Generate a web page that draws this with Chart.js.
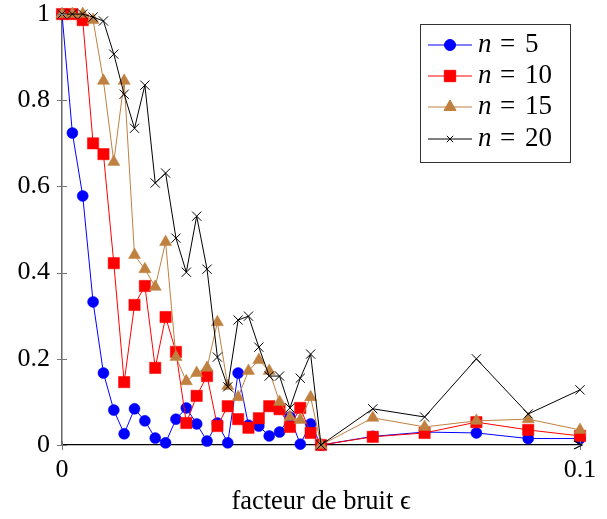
<!DOCTYPE html>
<html>
<head>
<meta charset="utf-8">
<script src="https://cdn.jsdelivr.net/npm/chart.js@4.4.1/dist/chart.umd.min.js"></script>
<style>
  html, body { margin: 0; padding: 0; background: #fff; }
  #wrap { width: 607px; height: 519px; position: relative; }
</style>
</head>
<body>
<div id="wrap"><canvas id="bruitChart"></canvas></div>
<script>
// noise factor (x values)
const epsilon = [0, 0.002, 0.004, 0.006, 0.008, 0.010, 0.012, 0.014, 0.016, 0.018,
  0.020, 0.022, 0.024, 0.026, 0.028, 0.030, 0.032, 0.034, 0.036, 0.038,
  0.040, 0.042, 0.044, 0.046, 0.048, 0.050, 0.06, 0.07, 0.08, 0.09, 0.1];

const n5 = [1, 0.724, 0.578, 0.332, 0.167, 0.081, 0.026, 0.084, 0.056, 0.016,
  0.005, 0.060, 0.086, 0.049, 0.009, 0.051, 0.005, 0.167, 0.046, 0.044,
  0.021, 0.030, 0.065, 0.002, 0.049, 0, 0.020, 0.030, 0.028, 0.015, 0.015];

const n10 = [1, 1, 0.986, 0.700, 0.675, 0.422, 0.146, 0.325, 0.369, 0.179,
  0.297, 0.216, 0.051, 0.114, 0.160, 0.044, 0.090, 0.060, 0.040, 0.062,
  0.090, 0.083, 0.042, 0.086, 0.028, 0, 0.019, 0.028, 0.053, 0.035, 0.021];

const n15 = [1, 1, 1, 0.986, 0.845, 0.657, 0.845, 0.441, 0.408, 0.367,
  0.471, 0.204, 0.148, 0.167, 0.179, 0.285, 0.137, 0.111, 0.172, 0.197,
  0.172, 0.100, 0.065, 0.058, 0.111, 0, 0.063, 0.042, 0.056, 0.060, 0.035];

const n20 = [1, 1, 1, 0.993, 0.984, 0.907, 0.814, 0.735, 0.835, 0.608,
  0.631, 0.480, 0.401, 0.531, 0.408, 0.204, 0.135, 0.290, 0.299, 0.227,
  0.160, 0.160, 0.086, 0.155, 0.211, 0, 0.084, 0.065, 0.200, 0.072, 0.128];

const seriesNames = ["5", "10", "15", "20"];
const xTicks = [0, 0.1];
const yTicks = [0, 0.2, 0.4, 0.6, 0.8, 1];

const serif = "'Liberation Serif', 'DejaVu Serif', serif";
const tan = "rgb(191,128,64)";

const toPoints = (ys) => ys.map((v, i) => ({ x: epsilon[i], y: v }));

const styles = [
  { color: "#0000ff", pointStyle: "circle", radius: 5.5 },
  { color: "#ff0000", pointStyle: "rect", radius: 8 },
  { color: tan, pointStyle: "triangle", radius: 7 },
  { color: "#000000", pointStyle: "crossRot", radius: 6.5 },
];

const allSeries = [n5, n10, n15, n20];

const datasets = allSeries.map((ys, k) => ({
  label: "n = " + seriesNames[k],
  data: toPoints(ys),
  borderColor: styles[k].color,
  backgroundColor: styles[k].color,
  pointBackgroundColor: styles[k].color,
  pointBorderColor: styles[k].color,
  pointStyle: styles[k].pointStyle,
  pointRadius: styles[k].radius,
  pointHoverRadius: styles[k].radius,
  pointBorderWidth: k === 3 ? 1 : 0.5,
  borderWidth: 1,
  tension: 0,
  fill: false,
  clip: false,
  order: 4 - k,
}));

// axis decorations + legend box, pgfplots style
const pgfDeco = {
  id: "pgfDeco",
  afterDraw(chart) {
    const ctx = chart.ctx;
    const a = chart.chartArea;
    const xs = chart.scales.x, ys = chart.scales.y;
    ctx.save();

    // tick marks on both sides of the y axis
    ctx.strokeStyle = "#777";
    ctx.lineWidth = 1;
    yTicks.forEach((v) => {
      const py = Math.round(ys.getPixelForValue(v)) + 0.5;
      ctx.beginPath();
      ctx.moveTo(a.left - 5, py);
      ctx.lineTo(a.left + 5, py);
      ctx.stroke();
    });
    xTicks.forEach((v) => {
      const px = Math.round(xs.getPixelForValue(v)) + 0.5;
      ctx.beginPath();
      ctx.moveTo(px, a.bottom - 4);
      ctx.lineTo(px, a.bottom + 5);
      ctx.stroke();
    });

    // arrow head on x axis
    ctx.strokeStyle = "#000";
    ctx.lineWidth = 1.3;
    ctx.beginPath();
    ctx.moveTo(a.right - 6, a.bottom - 4);
    ctx.lineTo(a.right + 2, a.bottom);
    ctx.lineTo(a.right - 6, a.bottom + 4);
    ctx.stroke();

    // legend
    const lx = 420.5, ly = 24.5, lw = 150, lh = 138;
    ctx.fillStyle = "#fff";
    ctx.fillRect(lx, ly, lw, lh);
    ctx.strokeStyle = "#333";
    ctx.lineWidth = 1;
    ctx.strokeRect(lx, ly, lw, lh);
    const rows = [45, 76, 107, 139];
    chart.data.datasets.forEach((ds, k) => {
      const ry = rows[k];
      ctx.strokeStyle = ds.borderColor;
      ctx.lineWidth = 1;
      ctx.beginPath();
      ctx.moveTo(428, ry);
      ctx.lineTo(472, ry);
      ctx.stroke();
      ctx.fillStyle = ds.backgroundColor;
      ctx.strokeStyle = ds.borderColor;
      Chart.helpers.drawPoint(ctx, {
        pointStyle: ds.pointStyle,
        radius: k === 3 ? 4.5 : ds.pointRadius,
        rotation: 0,
        borderWidth: ds.pointBorderWidth,
      }, 450, ry);
      ctx.fillStyle = "#000";
      ctx.textBaseline = "middle";
      ctx.textAlign = "left";
      ctx.font = "italic 27px " + serif;
      ctx.fillText("n", 478, ry);
      ctx.font = "27px " + serif;
      ctx.fillText("=", 500, ry);
      ctx.fillText(seriesNames[k], 525, ry);
    });
    ctx.restore();
  },
};

const ctxEl = document.getElementById("bruitChart").getContext("2d");
new Chart(ctxEl, {
  type: "line",
  data: { datasets: datasets },
  options: {
    responsive: true,
    maintainAspectRatio: false,
    animation: false,
    layout: { padding: { left: 0, right: 27, top: 0, bottom: 0 } },
    plugins: {
      legend: { display: false },
      tooltip: { enabled: false },
    },
    scales: {
      x: {
        type: "linear",
        min: 0,
        max: 0.1,
        afterBuildTicks: (s) => { s.ticks = xTicks.map((v) => ({ value: v })); },
        afterFit: (s) => { s.height = 74; },
        grid: { display: false, drawTicks: false },
        border: { display: true, color: "#000", width: 1.3 },
        ticks: {
          color: "#000",
          padding: 10,
          maxRotation: 0,
          font: { family: serif, size: 26 },
          callback: (v) => String(v),
        },
        title: {
          display: true,
          text: "facteur de bruit \u03f5",
          color: "#000",
          font: { family: serif, size: 26.5 },
          padding: { top: 4, bottom: 1 },
        },
      },
      y: {
        type: "linear",
        min: 0,
        max: 1,
        afterBuildTicks: (s) => { s.ticks = yTicks.map((v) => ({ value: v })); },
        afterFit: (s) => { s.width = 62; },
        grid: { display: false, drawTicks: false },
        border: { display: true, color: "#666", width: 1.5 },
        ticks: {
          color: "#000",
          padding: 12,
          font: { family: serif, size: 26, lineHeight: 0.16 },
          callback: (v) => String(+v.toFixed(1)),
        },
      },
    },
  },
  plugins: [pgfDeco],
});
</script>
</body>
</html>
